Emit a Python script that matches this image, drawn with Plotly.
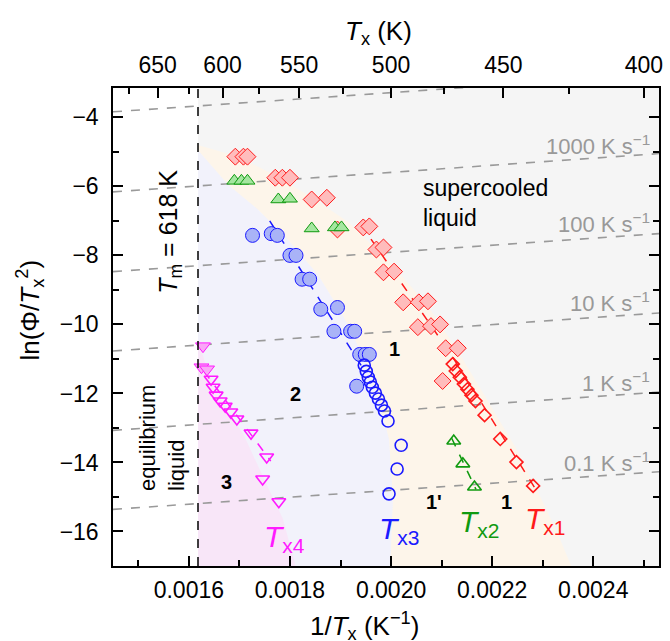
import plotly.graph_objects as go

FONT = "Liberation Sans, Arial, sans-serif"

# ---------------- axes ----------------
X_RANGE = [0.00145, 0.00253]
Y_RANGE = [-17.0, -3.15]
TM_INV = 1 / 618.0
TOP_TICKS_K = [650, 600, 550, 500, 450, 400]
TOP_MINOR_K = [675, 625, 575, 525, 475, 425]

# ---------------- data ----------------
# Tx1 (red diamonds)
tx1_filled_x = [0.001692, 0.001708, 0.001716, 0.001771, 0.001785, 0.001800, 0.001843, 0.001873,
                0.001894, 0.001945, 0.001957, 0.001971, 0.001985, 0.001985, 0.002006,
                0.002024, 0.002055, 0.002073, 0.002053, 0.002079, 0.002097, 0.002108, 0.002132, 0.002102]
tx1_filled_y = [-5.14, -5.14, -5.14, -5.75, -5.75, -5.75, -6.38, -6.33,
                -7.25, -7.19, -7.16, -7.83, -7.77, -8.49, -8.47,
                -9.36, -9.36, -9.33, -10.08, -10.05, -10.00, -10.69, -10.69, -11.64]
tx1_open_x = [0.002122, 0.002128, 0.002136, 0.002144, 0.002151, 0.002159, 0.002167,
              0.002185, 0.002216, 0.002248, 0.002281]
tx1_open_y = [-11.15, -11.35, -11.53, -11.73, -11.88, -12.05, -12.22,
              -12.63, -13.32, -13.99, -14.68]
tx1_fit_x = [0.00194, 0.00212, 0.002285]
tx1_fit_y = [-7.10, -10.90, -14.75]

# Tx2 (green triangles)
tx2_filled_x = [0.001690, 0.001704, 0.001716, 0.001777, 0.001800, 0.001843, 0.001889, 0.001902]
tx2_filled_y = [-5.84, -5.84, -5.84, -6.38, -6.36, -7.22, -7.19, -7.19]
tx2_open_x = [0.002124, 0.002142, 0.002165]
tx2_open_y = [-13.38, -14.04, -14.71]
tx2_fit_x = [0.002120, 0.002168]
tx2_fit_y = [-13.30, -14.78]

# Tx3 (blue circles)
tx3_filled_x = [0.001726, 0.001763, 0.001775, 0.001800, 0.001812, 0.001824, 0.001839,
                0.001861, 0.001894, 0.001887, 0.001920, 0.001928, 0.001938, 0.001949, 0.001957, 0.001932]
tx3_filled_y = [-7.42, -7.37, -7.42, -8.00, -8.00, -8.69, -8.69,
                -9.56, -9.51, -10.20, -10.20, -10.20, -10.87, -10.87, -10.87, -11.79]
tx3_open_x = [0.001947, 0.001951, 0.001955, 0.001959, 0.001963, 0.001969, 0.001975,
              0.001981, 0.001987, 0.001994, 0.002020, 0.002012, 0.001996]
tx3_open_y = [-11.18, -11.36, -11.53, -11.67, -11.82, -11.99, -12.16,
              -12.34, -12.51, -12.80, -13.50, -14.19, -14.91]
tx3_fit_x = [0.00176, 0.00195]
tx3_fit_y = [-7.00, -11.40]

# Tx4 (magenta down-triangles)
tx4_filled_x = [0.001628, 0.001625, 0.001636]
tx4_filled_y = [-10.63, -11.24, -11.30]
tx4_open_x = [0.001644, 0.001648, 0.001654, 0.001662, 0.001672, 0.001683, 0.001695,
              0.001723, 0.001754, 0.001746, 0.001778]
tx4_open_y = [-11.59, -11.82, -12.05, -12.22, -12.37, -12.54, -12.74,
              -13.15, -13.84, -14.48, -15.14]
tx4_fit_x = [0.001630, 0.001762]
tx4_fit_y = [-11.36, -13.96]

# constant heating-rate guide lines (values at left / right frame edges)
RATE_LABELS = ["", "1000 K s<sup>−1</sup>", "100 K s<sup>−1</sup>", "10 K s<sup>−1</sup>",
               "1 K s<sup>−1</sup>", "0.1 K s<sup>−1</sup>"]
RATE_Y_LEFT = [-3.84, -6.16, -8.47, -10.77, -13.07, -15.36]
RATE_Y_RIGHT = [-2.75, -5.05, -7.37, -9.67, -11.96, -14.27]
RATE_LABEL_Y = [None, -4.79, -7.05, -9.36, -11.67, -13.99]

# background region boundaries
peach_left_x = [0.001618, 0.001678, 0.001737, 0.001796, 0.001855, 0.001904, 0.001943,
                0.001973, 0.001996, 0.002004, 0.001998]
peach_left_y = [-4.95, -5.95, -6.67, -7.54, -8.55, -9.71, -10.86, -12.02, -13.32, -15.05, -17.2]
peach_right_x = [0.001618, 0.001698, 0.001757, 0.001835, 0.001914, 0.001992, 0.002071,
                 0.002130, 0.002189, 0.002248, 0.002297, 0.002330, 0.002362]
peach_right_y = [-4.80, -5.14, -5.58, -6.24, -7.02, -8.12, -9.42,
                 -10.72, -12.16, -13.61, -15.05, -16.07, -17.2]
pink_x = [0.001618, 0.001639, 0.001669, 0.001708, 0.001747, 0.001786, 0.001815]
pink_y = [-10.43, -11.44, -12.31, -13.18, -14.42, -15.63, -17.2]

# ---------------- colours ----------------
RED, RED_F = "#ff1a1a", "#ffbcbc"
GRN, GRN_F = "#109a10", "#a5e6a0"
BLU, BLU_F = "#1a1aff", "#a9b3f7"
MAG, MAG_F = "#ff1aff", "#faa6f7"

fig = go.Figure()

# background regions
fig.add_shape(type="rect", x0=TM_INV, x1=X_RANGE[1], y0=Y_RANGE[0], y1=Y_RANGE[1],
              fillcolor="#f5f5f5", line_width=0, layer="below")

lav_x = [TM_INV] + peach_left_x + [TM_INV]
lav_y = [peach_left_y[0]] + peach_left_y + [-17.2]
fig.add_trace(go.Scatter(x=lav_x, y=lav_y, fill="toself", fillcolor="#f2f2fb", mode="none",
                         hoverinfo="skip", showlegend=False))
pe_x = peach_left_x + peach_right_x[::-1]
pe_y = peach_left_y + peach_right_y[::-1]
fig.add_trace(go.Scatter(x=pe_x, y=pe_y, fill="toself", fillcolor="#fdf5ea", mode="none",
                         hoverinfo="skip", showlegend=False))
pk_x = pink_x + [TM_INV]
pk_y = pink_y + [-17.2]
fig.add_trace(go.Scatter(x=pk_x, y=pk_y, fill="toself", fillcolor="#f8e6f8", mode="none",
                         hoverinfo="skip", showlegend=False))

# heating-rate guide lines
for yl, yr in zip(RATE_Y_LEFT, RATE_Y_RIGHT):
    fig.add_trace(go.Scatter(x=X_RANGE, y=[yl, yr], mode="lines",
                             line=dict(color="#9a9a9a", width=1.6, dash="dash"),
                             hoverinfo="skip", showlegend=False))

# Tm line
fig.add_shape(type="line", x0=TM_INV, x1=TM_INV, y0=Y_RANGE[0], y1=Y_RANGE[1],
              line=dict(color="black", width=1.5, dash="dash"))

def fit(x, y, c):
    fig.add_trace(go.Scatter(x=x, y=y, mode="lines", line=dict(color=c, width=1.5, dash="dash"),
                             hoverinfo="skip", showlegend=False))

def pts(x, y, sym, size, c, fill, lw):
    fig.add_trace(go.Scatter(x=x, y=y, mode="markers", showlegend=False,
                             marker=dict(symbol=sym, size=size, color=fill,
                                         line=dict(color=c, width=lw))))

fit(tx1_fit_x, tx1_fit_y, RED)
fit(tx2_fit_x, tx2_fit_y, GRN)
fit(tx3_fit_x, tx3_fit_y, BLU)
fit(tx4_fit_x, tx4_fit_y, MAG)

pts(tx1_filled_x, tx1_filled_y, "diamond", 13, RED, RED_F, 1)
pts(tx1_open_x, tx1_open_y, "diamond-open", 10, RED, RED, 1.6)
pts(tx2_filled_x, tx2_filled_y, "triangle-up", 13, GRN, GRN_F, 1)
pts(tx2_open_x, tx2_open_y, "triangle-up-open", 12, GRN, GRN, 1.6)
pts(tx3_filled_x, tx3_filled_y, "circle", 14, BLU, BLU_F, 1)
pts(tx3_open_x, tx3_open_y, "circle-open", 12, BLU, BLU, 1.6)
pts(tx4_filled_x, tx4_filled_y, "triangle-down", 13, MAG, MAG_F, 1)
pts(tx4_open_x, tx4_open_y, "triangle-down-open", 12, MAG, MAG, 1.6)

# dummy trace to activate top axis
fig.add_trace(go.Scatter(x=X_RANGE, y=[-100, -100], xaxis="x2", mode="lines",
                         line=dict(width=0), hoverinfo="skip", showlegend=False))

ann = []
def A(text, x, y, size, color="black", **kw):
    d = dict(text=text, x=x, y=y, xref="x", yref="y", showarrow=False,
             xanchor="center", yanchor="middle",
             font=dict(family=FONT, size=size, color=color))
    d.update(kw)
    ann.append(d)

for lab, ly in zip(RATE_LABELS, RATE_LABEL_Y):
    if lab:
        A(lab, 0.002516, ly, 22, "#999999", xanchor="right")

A("supercooled<br>liquid", 0.002059, -6.47, 23, xanchor="left", align="left")
A("<i>T</i><sub>m</sub> = 618 K", 0.001561, -7.31, 25, textangle=-90)
A("equilibrium<br>liquid", 0.001547, -13.29, 22, textangle=-90, align="left")
A("<b>1</b>", 0.002006, -10.72, 20)
A("<b>2</b>", 0.00181, -12.02, 20)
A("<b>3</b>", 0.001675, -14.56, 20)
A("<b>1'</b>", 0.002085, -15.14, 20)
A("<b>1</b>", 0.002228, -15.14, 20)
A("<i>T</i><sub>x4</sub>", 0.00179, -16.21, 30, MAG)
A("<i>T</i><sub>x3</sub>", 0.002016, -15.98, 30, BLU)
A("<i>T</i><sub>x2</sub>", 0.002175, -15.78, 30, GRN)
A("<i>T</i><sub>x1</sub>", 0.002306, -15.69, 30, RED)

# axis titles
def P(text, x, y, **kw):
    d = dict(text=text, x=x, y=y, xref="paper", yref="paper", showarrow=False,
             xanchor="center", yanchor="middle", font=dict(family=FONT, size=26, color="black"))
    d.update(kw)
    ann.append(d)

P("1/<i>T</i><sub>x</sub> (K<sup>−1</sup>)", 0.46, -0.1255)
P("<i>T</i><sub>x</sub> (K)", 0.487, 1.117)
P("ln(Φ/<i>T</i><sub>x</sub><sup>2</sup>)", -0.1527, 0.5356, textangle=-90)

axis_common = dict(showline=True, linecolor="black", linewidth=1.5, ticks="inside",
                   tickcolor="black", tickwidth=1.5, ticklen=10, showgrid=False, zeroline=False,
                   tickfont=dict(family=FONT, size=23, color="black"))

fig.update_layout(
    width=670, height=641,
    margin=dict(l=113, r=7, t=88, b=75),
    paper_bgcolor="white", plot_bgcolor="white",
    showlegend=False,
    annotations=ann,
    xaxis=dict(range=X_RANGE, tickvals=[0.0016, 0.0018, 0.0020, 0.0022, 0.0024],
               ticktext=["0.0016", "0.0018", "0.0020", "0.0022", "0.0024"],
               minor=dict(tickvals=[0.0015, 0.0017, 0.0019, 0.0021, 0.0023, 0.0025],
                          ticks="inside", ticklen=6, tickcolor="black", tickwidth=1.5),
               ticklabelstandoff=3, **axis_common),
    xaxis2=dict(range=X_RANGE, overlaying="x", side="top", anchor="y",
                tickvals=[1 / t for t in TOP_TICKS_K], ticktext=[str(t) for t in TOP_TICKS_K],
                minor=dict(tickvals=[1 / t for t in TOP_MINOR_K], ticks="inside", ticklen=6,
                           tickcolor="black", tickwidth=1.5),
                ticklabelstandoff=4, **axis_common),
    yaxis=dict(range=Y_RANGE, tickvals=[-4, -6, -8, -10, -12, -14, -16], mirror="ticks",
               minor=dict(dtick=1, ticks="inside", ticklen=6, tickcolor="black", tickwidth=1.5),
               ticklabelstandoff=8, **axis_common),
)

fig.write_html("out.html", config={"displayModeBar": False},
               post_script="document.body.style.margin='0';document.body.style.overflow='hidden';")
